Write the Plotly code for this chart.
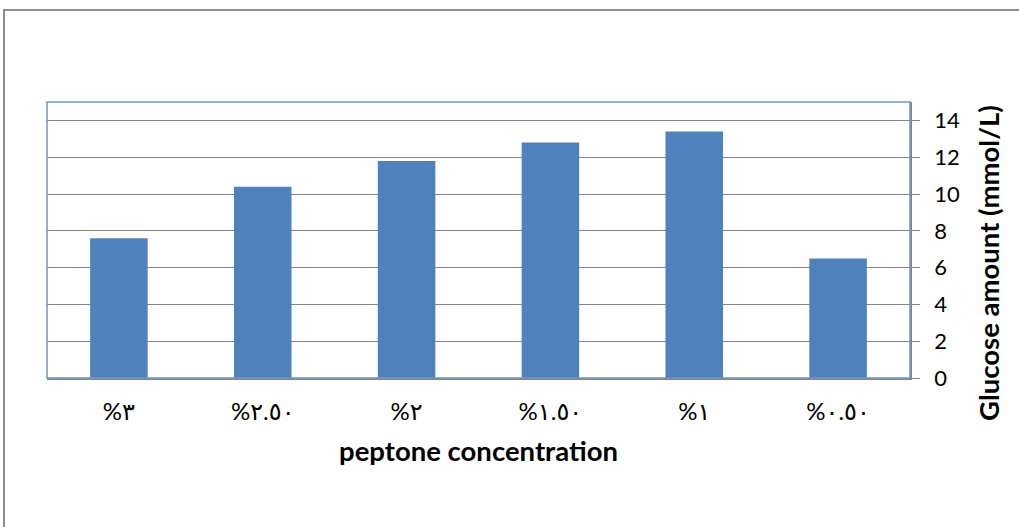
import plotly.graph_objects as go

# Data
categories = ["%٣", "%٢.٥٠", "%٢", "%١.٥٠", "%١", "%٠.٥٠"]
glucose = [7.6, 10.4, 11.8, 12.8, 13.4, 6.5]
y_ticks = [0, 2, 4, 6, 8, 10, 12, 14]

FONT = "Lato, 'Open Sans', 'DejaVu Sans', sans-serif"
W, H = 1019, 527
L, R, T, B = 47, 109, 102, 149
pw, ph = W - L - R, H - T - B

fig = go.Figure(go.Bar(
    x=categories,
    y=glucose,
    marker_color="#4F81BD",
    marker_line_width=0,
))

fig.update_layout(
    width=W, height=H,
    margin=dict(l=L, r=R, t=T, b=B),
    plot_bgcolor="white",
    paper_bgcolor="white",
    bargap=0.6,
    showlegend=False,
    font=dict(family=FONT, size=22, color="black"),
    xaxis=dict(
        title=dict(text="<b>peptone concentration</b>", font=dict(size=27.5), standoff=18),
        showline=True, linecolor="#868686", linewidth=1.5,
        ticks="", tickfont=dict(size=24), ticklabelstandoff=11,
        showgrid=False,
    ),
    yaxis=dict(
        side="right",
        range=[0, 15],
        tickvals=y_ticks,
        showline=True, linecolor="#868686", linewidth=1.5,
        ticks="outside", ticklen=8, tickcolor="#868686",
        showgrid=True, gridcolor="#868686", gridwidth=1.2,
        zeroline=False,
        ticklabelstandoff=10,
        tickfont=dict(size=22),
    ),
)

# y axis title placed like the original (slightly below the plot centre)
fig.add_annotation(
    text="<b>Glucose amount (mmol/L)</b>", textangle=-90,
    xref="paper", yref="paper",
    x=(988 - L) / pw, y=((H - B) - 263) / ph,
    xanchor="center", yanchor="middle", showarrow=False,
    font=dict(size=27.5),
)

# plot area border (blue) and outer chart border (gray)
fig.add_shape(type="rect", xref="paper", yref="paper", x0=0, y0=0, x1=1, y1=1,
              line=dict(color="#6F95C9", width=1.5), layer="above")
fig.add_shape(type="rect", xref="paper", yref="paper",
              x0=(4 - L) / pw, x1=(W + 20 - L) / pw,
              y0=-(H + 20 - (H - B)) / ph, y1=((H - B) - 10) / ph,
              line=dict(color="#8C8C8C", width=2), layer="below")

fig.write_html("out.html", config={"displayModeBar": False},
               post_script="document.body.style.margin='0';")
